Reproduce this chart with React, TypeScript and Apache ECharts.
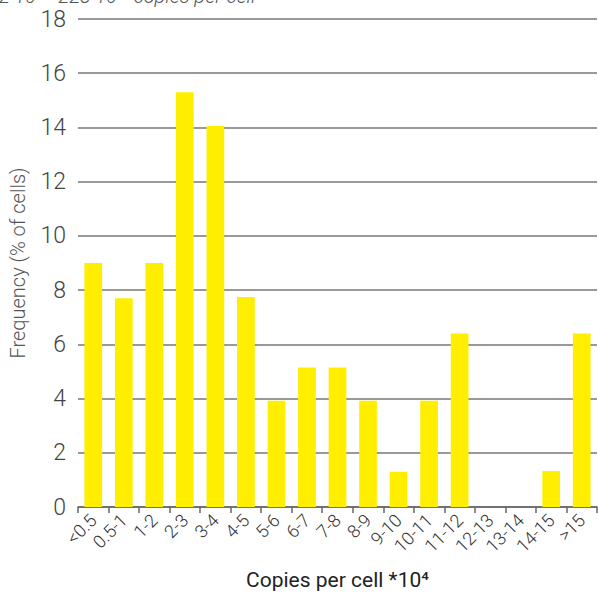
import React, { useEffect, useRef } from "react";
import * as echarts from "echarts";

const categories = ["<0.5", "0.5-1", "1-2", "2-3", "3-4", "4-5", "5-6", "6-7", "7-8", "8-9", "9-10", "10-11", "11-12", "12-13", "13-14", "14-15", ">15"];
const frequency = [9.0, 7.7, 9.0, 15.3, 14.05, 7.75, 3.92, 5.15, 5.15, 3.92, 1.3, 3.92, 6.4, 0, 0, 1.33, 6.4];
const yTicks = { min: 0, max: 18, interval: 2 };
const titleText = "2·10⁴ - 223·10⁴  copies per cell";
const xName = "Copies per cell *10⁴";
const yName = "Frequency (% of cells)";

const FONT = "Roboto, 'Open Sans', sans-serif";

export default function App() {
  const ref = useRef<HTMLDivElement>(null);
  useEffect(() => {
    const chart = echarts.init(ref.current!, null, { renderer: "svg" });
    chart.setOption({
      animation: false,
      backgroundColor: "#ffffff",
      grid: { left: 76, right: 1, top: 19, bottom: 92, containLabel: false },
      graphic: [
        {
          type: "text",
          left: -1,
          top: -14,
          style: { text: titleText, font: `italic 300 20px ${FONT}`, fill: "#555" },
        },
      ],
      xAxis: {
        type: "category",
        data: categories,
        name: xName,
        nameLocation: "middle",
        nameGap: 62,
        nameTextStyle: { fontFamily: FONT, fontSize: 21, color: "#222" },
        axisLine: { lineStyle: { color: "#666", width: 1.5 } },
        axisTick: { show: true, length: 6, lineStyle: { color: "#666", width: 1.5 } },
        axisLabel: { rotate: 45, fontFamily: FONT, fontWeight: 300, fontSize: 18, color: "#333", margin: 10, interval: 0 },
      },
      yAxis: {
        type: "value",
        min: yTicks.min,
        max: yTicks.max,
        interval: yTicks.interval,
        name: yName,
        nameLocation: "middle",
        nameGap: 50,
        nameTextStyle: { fontFamily: FONT, fontWeight: 300, fontSize: 20, color: "#555" },
        axisLine: { show: false },
        axisTick: { show: false },
        axisLabel: { fontFamily: FONT, fontWeight: 300, fontSize: 23, color: "#444", margin: 12 },
        splitLine: { lineStyle: { color: "#777", width: 1.5 } },
      },
      series: [
        {
          type: "bar",
          data: frequency,
          barWidth: "58%",
          itemStyle: { color: "#FFEE00" },
        },
      ],
    });
    return () => chart.dispose();
  }, []);
  return <div ref={ref} style={{ position: "absolute", left: 0, top: 0, width: 598, height: 599 }} />;
}
